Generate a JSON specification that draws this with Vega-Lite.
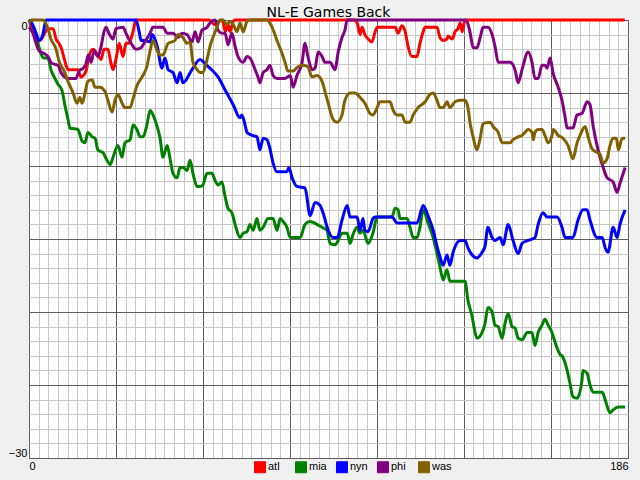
{
"$schema":"https://vega.github.io/schema/vega-lite/v6.json",
"width":599,"height":438,
"autosize":"none",
"padding":{"left":29,"top":20,"right":12,"bottom":22},
"background":"#f0f0f0",
"title":{"text":"NL-E Games Back","font":"DejaVu Sans","fontSize":14,"fontWeight":"normal","color":"#000000","anchor":"middle","offset":3,"dy":9},
"config":{"view":{"stroke":"#000000","strokeWidth":1,"fill":"#ffffff"}},
"data":{"values":[
{"team":"atl","g":0,"gb":0},{"team":"atl","g":3.4,"gb":-1.4},{"team":"atl","g":5.9,"gb":-0.6},{"team":"atl","g":7.5,"gb":-0.6},{"team":"atl","g":8.4,"gb":-1.3},{"team":"atl","g":9.3,"gb":-1.6},{"team":"atl","g":10,"gb":-1.9},{"team":"atl","g":11,"gb":-2.7},{"team":"atl","g":12.1,"gb":-3.4},{"team":"atl","g":15.2,"gb":-3.4},{"team":"atl","g":16.1,"gb":-3.9},{"team":"atl","g":17.7,"gb":-3.5},{"team":"atl","g":18.6,"gb":-2.5},{"team":"atl","g":19.9,"gb":-2.0},{"team":"atl","g":21.1,"gb":-2.3},{"team":"atl","g":22.4,"gb":-2.7},{"team":"atl","g":23.3,"gb":-2.0},{"team":"atl","g":24.5,"gb":-2.0},{"team":"atl","g":25.5,"gb":-3.0},{"team":"atl","g":26.1,"gb":-3.4},{"team":"atl","g":27,"gb":-2.7},{"team":"atl","g":28,"gb":-1.6},{"team":"atl","g":29.2,"gb":-2.5},{"team":"atl","g":30.1,"gb":-1.6},{"team":"atl","g":31,"gb":-1.6},{"team":"atl","g":32.3,"gb":-0.8},{"team":"atl","g":33.2,"gb":0},{"team":"atl","g":56,"gb":0},{"team":"atl","g":57.5,"gb":-0.3},{"team":"atl","g":60,"gb":0},{"team":"atl","g":61,"gb":-0.8},{"team":"atl","g":61.8,"gb":-0.3},{"team":"atl","g":62.4,"gb":-0.8},{"team":"atl","g":63.4,"gb":-0.1},{"team":"atl","g":64,"gb":0},{"team":"atl","g":101,"gb":0},{"team":"atl","g":101.9,"gb":-0.2},{"team":"atl","g":102.8,"gb":-1.0},{"team":"atl","g":103.4,"gb":-0.5},{"team":"atl","g":104.3,"gb":-1.0},{"team":"atl","g":105.3,"gb":-1.3},{"team":"atl","g":106.5,"gb":-1.5},{"team":"atl","g":107.5,"gb":-0.8},{"team":"atl","g":108.1,"gb":-0.5},{"team":"atl","g":113.7,"gb":-0.5},{"team":"atl","g":114.6,"gb":-0.9},{"team":"atl","g":115.8,"gb":-0.4},{"team":"atl","g":116.8,"gb":-0.8},{"team":"atl","g":117.7,"gb":-1.8},{"team":"atl","g":118.9,"gb":-2.5},{"team":"atl","g":120.5,"gb":-2.5},{"team":"atl","g":121.4,"gb":-1.6},{"team":"atl","g":122.4,"gb":-0.8},{"team":"atl","g":123,"gb":-0.5},{"team":"atl","g":126.7,"gb":-0.5},{"team":"atl","g":127.6,"gb":-1.2},{"team":"atl","g":128.6,"gb":-1.4},{"team":"atl","g":129.8,"gb":-1.3},{"team":"atl","g":130.1,"gb":-1.1},{"team":"atl","g":131.4,"gb":-1.3},{"team":"atl","g":132.3,"gb":-0.8},{"team":"atl","g":133.2,"gb":-0.6},{"team":"atl","g":133.9,"gb":-0.2},{"team":"atl","g":134.5,"gb":-0.8},{"team":"atl","g":135.4,"gb":0},{"team":"atl","g":185,"gb":0},
{"team":"mia","g":0,"gb":0},{"team":"mia","g":1.6,"gb":-0.6},{"team":"mia","g":2.8,"gb":-1.6},{"team":"mia","g":3.7,"gb":-2.3},{"team":"mia","g":4.7,"gb":-2.6},{"team":"mia","g":5.9,"gb":-2.6},{"team":"mia","g":6.8,"gb":-3.4},{"team":"mia","g":7.8,"gb":-3.9},{"team":"mia","g":9,"gb":-4.4},{"team":"mia","g":10.2,"gb":-4.8},{"team":"mia","g":11.2,"gb":-5.9},{"team":"mia","g":12.1,"gb":-6.8},{"team":"mia","g":12.7,"gb":-7.4},{"team":"mia","g":15.2,"gb":-7.5},{"team":"mia","g":16.5,"gb":-8.3},{"team":"mia","g":17.4,"gb":-8.4},{"team":"mia","g":18.3,"gb":-7.7},{"team":"mia","g":19.6,"gb":-8.0},{"team":"mia","g":20.5,"gb":-8.1},{"team":"mia","g":21.4,"gb":-8.9},{"team":"mia","g":23,"gb":-9.1},{"team":"mia","g":24.2,"gb":-9.6},{"team":"mia","g":25.2,"gb":-9.9},{"team":"mia","g":26.1,"gb":-9.4},{"team":"mia","g":27.6,"gb":-8.6},{"team":"mia","g":28.9,"gb":-9.4},{"team":"mia","g":29.8,"gb":-8.4},{"team":"mia","g":31.4,"gb":-8.2},{"team":"mia","g":32.3,"gb":-7.2},{"team":"mia","g":33.5,"gb":-7.5},{"team":"mia","g":34.5,"gb":-8.0},{"team":"mia","g":35.4,"gb":-8.0},{"team":"mia","g":36.6,"gb":-7.2},{"team":"mia","g":37.6,"gb":-6.2},{"team":"mia","g":38.5,"gb":-6.5},{"team":"mia","g":39.8,"gb":-7.3},{"team":"mia","g":40.7,"gb":-8.1},{"team":"mia","g":41.6,"gb":-9.4},{"team":"mia","g":42.9,"gb":-8.6},{"team":"mia","g":43.8,"gb":-9.5},{"team":"mia","g":44.7,"gb":-10.5},{"team":"mia","g":46,"gb":-10.8},{"team":"mia","g":46.9,"gb":-10.1},{"team":"mia","g":47.8,"gb":-10.1},{"team":"mia","g":49.1,"gb":-10.3},{"team":"mia","g":50,"gb":-9.6},{"team":"mia","g":50.9,"gb":-10.5},{"team":"mia","g":52.2,"gb":-11.4},{"team":"mia","g":53.1,"gb":-11.4},{"team":"mia","g":54,"gb":-11.3},{"team":"mia","g":55.3,"gb":-10.5},{"team":"mia","g":56.8,"gb":-10.5},{"team":"mia","g":57.8,"gb":-11.0},{"team":"mia","g":58.7,"gb":-11.3},{"team":"mia","g":59.9,"gb":-11.1},{"team":"mia","g":60.9,"gb":-12.1},{"team":"mia","g":61.8,"gb":-12.9},{"team":"mia","g":63,"gb":-13.2},{"team":"mia","g":64,"gb":-14.0},{"team":"mia","g":65.5,"gb":-14.9},{"team":"mia","g":66.5,"gb":-14.6},{"team":"mia","g":67.7,"gb":-14.5},{"team":"mia","g":68.6,"gb":-14.0},{"team":"mia","g":69.6,"gb":-14.4},{"team":"mia","g":70.8,"gb":-13.6},{"team":"mia","g":71.7,"gb":-14.4},{"team":"mia","g":72.7,"gb":-14.2},{"team":"mia","g":74.2,"gb":-13.6},{"team":"mia","g":75.8,"gb":-13.6},{"team":"mia","g":77,"gb":-14.4},{"team":"mia","g":78,"gb":-13.6},{"team":"mia","g":78.9,"gb":-13.8},{"team":"mia","g":80.1,"gb":-14.2},{"team":"mia","g":81.1,"gb":-14.9},{"team":"mia","g":82,"gb":-14.9},{"team":"mia","g":84.2,"gb":-14.9},{"team":"mia","g":85.7,"gb":-14.0},{"team":"mia","g":87.3,"gb":-13.8},{"team":"mia","g":89.4,"gb":-14.0},{"team":"mia","g":91,"gb":-14.2},{"team":"mia","g":92.5,"gb":-14.4},{"team":"mia","g":93.5,"gb":-15.3},{"team":"mia","g":95,"gb":-15.4},{"team":"mia","g":96,"gb":-15.1},{"team":"mia","g":97.2,"gb":-14.6},{"team":"mia","g":98.8,"gb":-14.6},{"team":"mia","g":99.7,"gb":-15.3},{"team":"mia","g":100.6,"gb":-14.7},{"team":"mia","g":101.9,"gb":-14.2},{"team":"mia","g":102.8,"gb":-14.6},{"team":"mia","g":103.7,"gb":-14.4},{"team":"mia","g":105.3,"gb":-15.3},{"team":"mia","g":106.8,"gb":-14.6},{"team":"mia","g":108.1,"gb":-13.5},{"team":"mia","g":112.7,"gb":-13.5},{"team":"mia","g":113.7,"gb":-12.9},{"team":"mia","g":114.6,"gb":-13.0},{"team":"mia","g":115.2,"gb":-13.6},{"team":"mia","g":117.4,"gb":-13.6},{"team":"mia","g":118.3,"gb":-14.2},{"team":"mia","g":119.3,"gb":-14.9},{"team":"mia","g":120.5,"gb":-14.9},{"team":"mia","g":121.4,"gb":-14.2},{"team":"mia","g":122.4,"gb":-13.0},{"team":"mia","g":123.9,"gb":-13.9},{"team":"mia","g":125.5,"gb":-14.9},{"team":"mia","g":126.7,"gb":-16.0},{"team":"mia","g":127.6,"gb":-16.9},{"team":"mia","g":128.6,"gb":-17.8},{"team":"mia","g":129.8,"gb":-17.1},{"team":"mia","g":130.7,"gb":-17.9},{"team":"mia","g":135.4,"gb":-17.9},{"team":"mia","g":136.3,"gb":-19.2},{"team":"mia","g":137.6,"gb":-20.3},{"team":"mia","g":138.5,"gb":-21.4},{"team":"mia","g":139.1,"gb":-21.8},{"team":"mia","g":140.7,"gb":-21.4},{"team":"mia","g":141.6,"gb":-20.8},{"team":"mia","g":142.5,"gb":-19.7},{"team":"mia","g":143.8,"gb":-20.0},{"team":"mia","g":144.7,"gb":-20.9},{"team":"mia","g":145.7,"gb":-21.0},{"team":"mia","g":146.9,"gb":-21.8},{"team":"mia","g":147.8,"gb":-20.8},{"team":"mia","g":148.8,"gb":-20.1},{"team":"mia","g":150,"gb":-21.0},{"team":"mia","g":150.9,"gb":-21.1},{"team":"mia","g":151.9,"gb":-21.8},{"team":"mia","g":153.1,"gb":-21.9},{"team":"mia","g":154.7,"gb":-21.4},{"team":"mia","g":156.2,"gb":-21.4},{"team":"mia","g":157.1,"gb":-22.3},{"team":"mia","g":158.1,"gb":-21.4},{"team":"mia","g":159.3,"gb":-20.9},{"team":"mia","g":160.2,"gb":-20.5},{"team":"mia","g":161.2,"gb":-20.9},{"team":"mia","g":162.4,"gb":-21.4},{"team":"mia","g":163.4,"gb":-22.1},{"team":"mia","g":164.9,"gb":-22.9},{"team":"mia","g":165.8,"gb":-23.1},{"team":"mia","g":167.1,"gb":-24.0},{"team":"mia","g":168,"gb":-24.9},{"team":"mia","g":168.9,"gb":-25.8},{"team":"mia","g":170.2,"gb":-25.9},{"team":"mia","g":171.7,"gb":-24.7},{"team":"mia","g":172,"gb":-24.0},{"team":"mia","g":173.3,"gb":-24.2},{"team":"mia","g":174.2,"gb":-25.0},{"team":"mia","g":175.2,"gb":-25.5},{"team":"mia","g":178,"gb":-25.5},{"team":"mia","g":178.9,"gb":-26.0},{"team":"mia","g":180.4,"gb":-26.9},{"team":"mia","g":181.4,"gb":-26.7},{"team":"mia","g":182.9,"gb":-26.5},{"team":"mia","g":185.1,"gb":-26.5},
{"team":"nyn","g":0,"gb":0},{"team":"nyn","g":0.6,"gb":-0.1},{"team":"nyn","g":2.2,"gb":-0.9},{"team":"nyn","g":3.1,"gb":-1.4},{"team":"nyn","g":4.3,"gb":-1.0},{"team":"nyn","g":5.3,"gb":0},{"team":"nyn","g":33.2,"gb":0},{"team":"nyn","g":34.2,"gb":-0.8},{"team":"nyn","g":34.8,"gb":-1.4},{"team":"nyn","g":35.7,"gb":-1.4},{"team":"nyn","g":37.6,"gb":-1.5},{"team":"nyn","g":38.2,"gb":-1.0},{"team":"nyn","g":39.8,"gb":-1.8},{"team":"nyn","g":41.3,"gb":-3.3},{"team":"nyn","g":42.2,"gb":-2.6},{"team":"nyn","g":43.2,"gb":-3.4},{"team":"nyn","g":44.7,"gb":-3.6},{"team":"nyn","g":46,"gb":-4.3},{"team":"nyn","g":46.9,"gb":-3.6},{"team":"nyn","g":47.8,"gb":-4.3},{"team":"nyn","g":50.6,"gb":-3.4},{"team":"nyn","g":53.1,"gb":-2.7},{"team":"nyn","g":54.7,"gb":-3.0},{"team":"nyn","g":56.2,"gb":-3.3},{"team":"nyn","g":58.7,"gb":-3.9},{"team":"nyn","g":60.9,"gb":-4.8},{"team":"nyn","g":63.4,"gb":-5.8},{"team":"nyn","g":65.5,"gb":-6.7},{"team":"nyn","g":66.1,"gb":-6.5},{"team":"nyn","g":67.1,"gb":-7.2},{"team":"nyn","g":67.7,"gb":-7.7},{"team":"nyn","g":69.3,"gb":-7.9},{"team":"nyn","g":70.8,"gb":-8.0},{"team":"nyn","g":71.7,"gb":-8.9},{"team":"nyn","g":72.7,"gb":-8.1},{"team":"nyn","g":73.9,"gb":-8.2},{"team":"nyn","g":74.8,"gb":-8.8},{"team":"nyn","g":75.8,"gb":-9.8},{"team":"nyn","g":77,"gb":-10.4},{"team":"nyn","g":80.1,"gb":-10.4},{"team":"nyn","g":80.7,"gb":-10.1},{"team":"nyn","g":81.7,"gb":-10.8},{"team":"nyn","g":83.2,"gb":-11.4},{"team":"nyn","g":85.7,"gb":-11.5},{"team":"nyn","g":87.3,"gb":-13.4},{"team":"nyn","g":88.8,"gb":-12.5},{"team":"nyn","g":90.4,"gb":-12.7},{"team":"nyn","g":91.3,"gb":-13.2},{"team":"nyn","g":92.9,"gb":-14.4},{"team":"nyn","g":94.4,"gb":-14.9},{"team":"nyn","g":95.7,"gb":-14.9},{"team":"nyn","g":97.2,"gb":-13.7},{"team":"nyn","g":98.8,"gb":-12.7},{"team":"nyn","g":99.7,"gb":-13.5},{"team":"nyn","g":101.9,"gb":-13.5},{"team":"nyn","g":102.8,"gb":-14.4},{"team":"nyn","g":103.7,"gb":-13.6},{"team":"nyn","g":104.3,"gb":-14.4},{"team":"nyn","g":105.3,"gb":-14.5},{"team":"nyn","g":106.8,"gb":-13.6},{"team":"nyn","g":107.5,"gb":-13.5},{"team":"nyn","g":112.7,"gb":-13.5},{"team":"nyn","g":114.3,"gb":-13.9},{"team":"nyn","g":120.5,"gb":-13.9},{"team":"nyn","g":122.4,"gb":-12.7},{"team":"nyn","g":123.9,"gb":-13.4},{"team":"nyn","g":125.5,"gb":-14.4},{"team":"nyn","g":126.7,"gb":-15.5},{"team":"nyn","g":127.6,"gb":-16.2},{"team":"nyn","g":128.6,"gb":-16.8},{"team":"nyn","g":129.8,"gb":-16.1},{"team":"nyn","g":130.7,"gb":-16.8},{"team":"nyn","g":131.7,"gb":-15.9},{"team":"nyn","g":133.9,"gb":-15.1},{"team":"nyn","g":135.4,"gb":-15.1},{"team":"nyn","g":136.3,"gb":-15.6},{"team":"nyn","g":137.6,"gb":-16.1},{"team":"nyn","g":139.1,"gb":-16.3},{"team":"nyn","g":140.7,"gb":-15.9},{"team":"nyn","g":141.6,"gb":-15.5},{"team":"nyn","g":142.5,"gb":-14.2},{"team":"nyn","g":143.8,"gb":-14.9},{"team":"nyn","g":144.7,"gb":-15.1},{"team":"nyn","g":146.3,"gb":-14.9},{"team":"nyn","g":147.2,"gb":-15.4},{"team":"nyn","g":148.8,"gb":-14.0},{"team":"nyn","g":150.3,"gb":-15.1},{"team":"nyn","g":151.9,"gb":-16.0},{"team":"nyn","g":153.1,"gb":-15.3},{"team":"nyn","g":155,"gb":-15.1},{"team":"nyn","g":157.1,"gb":-14.9},{"team":"nyn","g":158.1,"gb":-14.0},{"team":"nyn","g":159.6,"gb":-13.2},{"team":"nyn","g":160.9,"gb":-13.5},{"team":"nyn","g":164,"gb":-13.5},{"team":"nyn","g":165.5,"gb":-14.2},{"team":"nyn","g":166.5,"gb":-14.9},{"team":"nyn","g":168.9,"gb":-14.9},{"team":"nyn","g":170.5,"gb":-13.7},{"team":"nyn","g":172,"gb":-13.0},{"team":"nyn","g":173.3,"gb":-13.0},{"team":"nyn","g":174.2,"gb":-13.7},{"team":"nyn","g":176.4,"gb":-14.9},{"team":"nyn","g":178,"gb":-14.9},{"team":"nyn","g":178.9,"gb":-15.6},{"team":"nyn","g":179.8,"gb":-15.9},{"team":"nyn","g":181.4,"gb":-14.2},{"team":"nyn","g":182.6,"gb":-14.9},{"team":"nyn","g":183.5,"gb":-14.0},{"team":"nyn","g":185.1,"gb":-13.0},
{"team":"phi","g":0,"gb":-0.5},{"team":"phi","g":1.2,"gb":-0.9},{"team":"phi","g":2.2,"gb":-1.6},{"team":"phi","g":3.1,"gb":-2.1},{"team":"phi","g":4.7,"gb":-2.3},{"team":"phi","g":5.9,"gb":-2.5},{"team":"phi","g":6.8,"gb":-2.9},{"team":"phi","g":7.5,"gb":-3.0},{"team":"phi","g":9,"gb":-3.1},{"team":"phi","g":9.9,"gb":-3.6},{"team":"phi","g":12.1,"gb":-4.0},{"team":"phi","g":14.6,"gb":-4.0},{"team":"phi","g":15.5,"gb":-3.5},{"team":"phi","g":16.8,"gb":-3.3},{"team":"phi","g":17.7,"gb":-3.0},{"team":"phi","g":18.4,"gb":-2.4},{"team":"phi","g":19.3,"gb":-2.9},{"team":"phi","g":20.2,"gb":-2.1},{"team":"phi","g":21.4,"gb":-2.5},{"team":"phi","g":22.4,"gb":-1.8},{"team":"phi","g":23.3,"gb":-0.8},{"team":"phi","g":23.9,"gb":-0.5},{"team":"phi","g":24.8,"gb":-0.9},{"team":"phi","g":26.1,"gb":-1.3},{"team":"phi","g":27,"gb":-0.6},{"team":"phi","g":29.2,"gb":-0.5},{"team":"phi","g":30.1,"gb":-0.9},{"team":"phi","g":31,"gb":-1.3},{"team":"phi","g":32.3,"gb":-1.8},{"team":"phi","g":33.2,"gb":-2.0},{"team":"phi","g":34.8,"gb":-1.9},{"team":"phi","g":35.7,"gb":-1.6},{"team":"phi","g":37.6,"gb":-0.9},{"team":"phi","g":38.5,"gb":-0.5},{"team":"phi","g":41.6,"gb":-0.5},{"team":"phi","g":42.9,"gb":-0.9},{"team":"phi","g":44.7,"gb":-0.9},{"team":"phi","g":46.3,"gb":-1.2},{"team":"phi","g":47.5,"gb":-0.9},{"team":"phi","g":49.1,"gb":-1.0},{"team":"phi","g":50.6,"gb":-1.5},{"team":"phi","g":51.6,"gb":-0.8},{"team":"phi","g":52.5,"gb":-1.5},{"team":"phi","g":53.7,"gb":-0.7},{"team":"phi","g":55.3,"gb":-0.5},{"team":"phi","g":56.2,"gb":-0.2},{"team":"phi","g":57.8,"gb":0},{"team":"phi","g":58.7,"gb":-0.7},{"team":"phi","g":59.9,"gb":-0.9},{"team":"phi","g":60.9,"gb":-0.9},{"team":"phi","g":61.8,"gb":-1.7},{"team":"phi","g":63,"gb":-0.9},{"team":"phi","g":64,"gb":-1.8},{"team":"phi","g":64.9,"gb":-2.5},{"team":"phi","g":66.5,"gb":-2.9},{"team":"phi","g":67.7,"gb":-2.5},{"team":"phi","g":68.6,"gb":-2.6},{"team":"phi","g":70.2,"gb":-3.4},{"team":"phi","g":71.1,"gb":-3.9},{"team":"phi","g":71.7,"gb":-4.3},{"team":"phi","g":72.7,"gb":-3.6},{"team":"phi","g":73.9,"gb":-3.4},{"team":"phi","g":74.8,"gb":-3.1},{"team":"phi","g":75.8,"gb":-3.8},{"team":"phi","g":77,"gb":-4.0},{"team":"phi","g":79.5,"gb":-4.0},{"team":"phi","g":81.1,"gb":-3.8},{"team":"phi","g":82,"gb":-4.6},{"team":"phi","g":83.2,"gb":-3.8},{"team":"phi","g":84.8,"gb":-2.9},{"team":"phi","g":85.7,"gb":-1.6},{"team":"phi","g":86.6,"gb":-2.5},{"team":"phi","g":87.9,"gb":-3.4},{"team":"phi","g":88.8,"gb":-3.3},{"team":"phi","g":89.8,"gb":-2.2},{"team":"phi","g":91,"gb":-2.5},{"team":"phi","g":91.9,"gb":-2.9},{"team":"phi","g":93.5,"gb":-2.9},{"team":"phi","g":95,"gb":-3.4},{"team":"phi","g":96,"gb":-2.2},{"team":"phi","g":97.2,"gb":-1.2},{"team":"phi","g":98.1,"gb":-0.7},{"team":"phi","g":98.8,"gb":0},{"team":"phi","g":135.4,"gb":0},{"team":"phi","g":136,"gb":-0.1},{"team":"phi","g":137,"gb":-0.9},{"team":"phi","g":137.9,"gb":-1.9},{"team":"phi","g":139.1,"gb":-1.9},{"team":"phi","g":140.1,"gb":-1.2},{"team":"phi","g":141,"gb":-0.5},{"team":"phi","g":142.5,"gb":-0.5},{"team":"phi","g":143.8,"gb":-1.0},{"team":"phi","g":144.7,"gb":-1.8},{"team":"phi","g":145.7,"gb":-2.9},{"team":"phi","g":149.4,"gb":-2.9},{"team":"phi","g":150.9,"gb":-3.4},{"team":"phi","g":151.9,"gb":-4.3},{"team":"phi","g":153.1,"gb":-3.4},{"team":"phi","g":155,"gb":-2.2},{"team":"phi","g":156.2,"gb":-2.9},{"team":"phi","g":157.1,"gb":-4.0},{"team":"phi","g":158.1,"gb":-4.0},{"team":"phi","g":159.3,"gb":-3.1},{"team":"phi","g":160.2,"gb":-3.1},{"team":"phi","g":160.9,"gb":-3.3},{"team":"phi","g":161.8,"gb":-2.6},{"team":"phi","g":162.7,"gb":-3.6},{"team":"phi","g":164.3,"gb":-4.6},{"team":"phi","g":165.5,"gb":-5.5},{"team":"phi","g":166.5,"gb":-6.7},{"team":"phi","g":167.1,"gb":-7.4},{"team":"phi","g":168.9,"gb":-7.4},{"team":"phi","g":170.2,"gb":-6.5},{"team":"phi","g":171.7,"gb":-6.4},{"team":"phi","g":173.3,"gb":-5.6},{"team":"phi","g":174.2,"gb":-5.8},{"team":"phi","g":175.2,"gb":-7.3},{"team":"phi","g":176.7,"gb":-8.9},{"team":"phi","g":178,"gb":-9.9},{"team":"phi","g":179.5,"gb":-10.8},{"team":"phi","g":181.4,"gb":-11.1},{"team":"phi","g":182.6,"gb":-11.8},{"team":"phi","g":183.5,"gb":-11.2},{"team":"phi","g":185.1,"gb":-10.1},
{"team":"was","g":0,"gb":-0.2},{"team":"was","g":0.9,"gb":0},{"team":"was","g":4.3,"gb":0},{"team":"was","g":5.9,"gb":-0.6},{"team":"was","g":6.8,"gb":-1.3},{"team":"was","g":8.4,"gb":-2.0},{"team":"was","g":9.3,"gb":-2.8},{"team":"was","g":10.9,"gb":-3.5},{"team":"was","g":12.1,"gb":-4.2},{"team":"was","g":13.7,"gb":-5.0},{"team":"was","g":14.9,"gb":-5.7},{"team":"was","g":15.8,"gb":-5.3},{"team":"was","g":16.5,"gb":-5.7},{"team":"was","g":17.4,"gb":-5.0},{"team":"was","g":18.3,"gb":-4.2},{"team":"was","g":19.6,"gb":-4.1},{"team":"was","g":20.5,"gb":-4.6},{"team":"was","g":22,"gb":-4.6},{"team":"was","g":23.6,"gb":-4.9},{"team":"was","g":24.5,"gb":-5.5},{"team":"was","g":25.8,"gb":-6.3},{"team":"was","g":26.7,"gb":-5.5},{"team":"was","g":27.6,"gb":-5.1},{"team":"was","g":28.9,"gb":-5.7},{"team":"was","g":29.8,"gb":-6.0},{"team":"was","g":31.4,"gb":-6.0},{"team":"was","g":32.3,"gb":-5.4},{"team":"was","g":33.5,"gb":-4.5},{"team":"was","g":35.1,"gb":-3.9},{"team":"was","g":36.6,"gb":-3.2},{"team":"was","g":37.6,"gb":-2.1},{"team":"was","g":38.5,"gb":-1.4},{"team":"was","g":39.8,"gb":-2.1},{"team":"was","g":40.7,"gb":-2.4},{"team":"was","g":41.6,"gb":-2.4},{"team":"was","g":43.2,"gb":-1.6},{"team":"was","g":44.4,"gb":-1.5},{"team":"was","g":45.3,"gb":-1.4},{"team":"was","g":46.3,"gb":-1.0},{"team":"was","g":47.8,"gb":-1.2},{"team":"was","g":49.1,"gb":-1.6},{"team":"was","g":50,"gb":-1.5},{"team":"was","g":50.9,"gb":-2.9},{"team":"was","g":52.2,"gb":-3.4},{"team":"was","g":53.1,"gb":-3.6},{"team":"was","g":54,"gb":-3.6},{"team":"was","g":55.3,"gb":-2.7},{"team":"was","g":56.2,"gb":-1.8},{"team":"was","g":57.1,"gb":-1.2},{"team":"was","g":58.4,"gb":-0.5},{"team":"was","g":59.3,"gb":0},{"team":"was","g":60.2,"gb":0},{"team":"was","g":61.5,"gb":-0.3},{"team":"was","g":62.4,"gb":-0.1},{"team":"was","g":63.4,"gb":-0.3},{"team":"was","g":64.6,"gb":-0.8},{"team":"was","g":65.5,"gb":-0.2},{"team":"was","g":66.5,"gb":-0.8},{"team":"was","g":67.7,"gb":-0.1},{"team":"was","g":68.6,"gb":0},{"team":"was","g":73.9,"gb":0},{"team":"was","g":75.5,"gb":-0.5},{"team":"was","g":77,"gb":-1.4},{"team":"was","g":78.6,"gb":-2.3},{"team":"was","g":79.5,"gb":-2.9},{"team":"was","g":80.4,"gb":-3.5},{"team":"was","g":82,"gb":-3.5},{"team":"was","g":83.5,"gb":-3.2},{"team":"was","g":85.1,"gb":-3.1},{"team":"was","g":86.6,"gb":-3.2},{"team":"was","g":87.9,"gb":-3.9},{"team":"was","g":89.4,"gb":-3.8},{"team":"was","g":91,"gb":-4.2},{"team":"was","g":91.9,"gb":-4.9},{"team":"was","g":92.9,"gb":-5.7},{"team":"was","g":94.4,"gb":-6.8},{"team":"was","g":95.7,"gb":-7.0},{"team":"was","g":97.2,"gb":-6.5},{"team":"was","g":98.1,"gb":-5.5},{"team":"was","g":99.7,"gb":-5.0},{"team":"was","g":101.2,"gb":-5.0},{"team":"was","g":102.8,"gb":-5.3},{"team":"was","g":104.3,"gb":-5.7},{"team":"was","g":105.9,"gb":-6.4},{"team":"was","g":106.8,"gb":-6.5},{"team":"was","g":108.1,"gb":-6.0},{"team":"was","g":109,"gb":-5.6},{"team":"was","g":112.1,"gb":-5.6},{"team":"was","g":113.1,"gb":-6.2},{"team":"was","g":114.3,"gb":-6.5},{"team":"was","g":115.8,"gb":-6.5},{"team":"was","g":116.8,"gb":-7.0},{"team":"was","g":118.3,"gb":-7.0},{"team":"was","g":119.3,"gb":-6.5},{"team":"was","g":120.8,"gb":-6.0},{"team":"was","g":123,"gb":-5.6},{"team":"was","g":124.5,"gb":-5.1},{"team":"was","g":125.5,"gb":-5.0},{"team":"was","g":126.7,"gb":-5.5},{"team":"was","g":127.6,"gb":-6.0},{"team":"was","g":128.6,"gb":-6.0},{"team":"was","g":129.8,"gb":-5.6},{"team":"was","g":130.7,"gb":-6.0},{"team":"was","g":132.3,"gb":-5.6},{"team":"was","g":133.9,"gb":-5.5},{"team":"was","g":135.4,"gb":-5.5},{"team":"was","g":136.3,"gb":-6.0},{"team":"was","g":137,"gb":-7.1},{"team":"was","g":137.9,"gb":-8.0},{"team":"was","g":139.1,"gb":-8.9},{"team":"was","g":140.1,"gb":-8.1},{"team":"was","g":141,"gb":-7.1},{"team":"was","g":143.2,"gb":-7.0},{"team":"was","g":144.1,"gb":-7.3},{"team":"was","g":145.7,"gb":-7.7},{"team":"was","g":146.9,"gb":-8.4},{"team":"was","g":147.8,"gb":-8.4},{"team":"was","g":149.4,"gb":-8.4},{"team":"was","g":150.3,"gb":-8.2},{"team":"was","g":151.9,"gb":-8.0},{"team":"was","g":153.1,"gb":-7.9},{"team":"was","g":154,"gb":-7.7},{"team":"was","g":155,"gb":-7.5},{"team":"was","g":156.2,"gb":-7.7},{"team":"was","g":156.6,"gb":-8.2},{"team":"was","g":157.1,"gb":-7.7},{"team":"was","g":158.1,"gb":-7.5},{"team":"was","g":159.3,"gb":-7.5},{"team":"was","g":160.2,"gb":-7.9},{"team":"was","g":161.2,"gb":-8.4},{"team":"was","g":162.4,"gb":-7.9},{"team":"was","g":162.8,"gb":-7.5},{"team":"was","g":164.3,"gb":-7.9},{"team":"was","g":165.8,"gb":-8.1},{"team":"was","g":167.4,"gb":-8.6},{"team":"was","g":168.9,"gb":-9.5},{"team":"was","g":170.2,"gb":-8.4},{"team":"was","g":171.1,"gb":-7.9},{"team":"was","g":172.7,"gb":-7.3},{"team":"was","g":173.6,"gb":-8.0},{"team":"was","g":174.8,"gb":-8.8},{"team":"was","g":175.8,"gb":-9.0},{"team":"was","g":177.3,"gb":-9.2},{"team":"was","g":178.3,"gb":-9.8},{"team":"was","g":179.5,"gb":-9.5},{"team":"was","g":180.4,"gb":-8.6},{"team":"was","g":181.4,"gb":-8.1},{"team":"was","g":182.4,"gb":-8.1},{"team":"was","g":183,"gb":-8.9},{"team":"was","g":184.2,"gb":-8.1},{"team":"was","g":185.1,"gb":-8.1}
]},
"mark":{"type":"line","strokeWidth":3,"interpolate":"monotone","clip":false},
"encoding":{
"x":{"field":"g","type":"quantitative","scale":{"domain":[0,186],"nice":false,"zero":false},
"axis":{"title":null,"values":[0,3,6,9,12,15,18,21,24,27,30,33,36,39,42,45,48,51,54,57,60,63,66,69,72,75,78,81,84,87,90,93,96,99,102,105,108,111,114,117,120,123,126,129,132,135,138,141,144,147,150,153,156,159,162,165,168,171,174,177,180,183,186],
"grid":true,"gridColor":{"condition":{"test":"datum.value % 27 === 0 || datum.value === 186","value":"#5f5f5f"},"value":"#c8c8c8"},"gridWidth":1,
"ticks":false,"tickSize":0,"domain":false,"labelExpr":"datum.value === 0 || datum.value === 186 ? datum.label : ''","labelFlush":true,"labelOverlap":false,"labelFont":"Liberation Sans","labelFontSize":11,"labelColor":"#000000","labelPadding":2}},
"y":{"field":"gb","type":"quantitative","scale":{"domain":[-30,0],"nice":false,"zero":false},
"axis":{"title":null,"values":[-30,-29,-28,-27,-26,-25,-24,-23,-22,-21,-20,-19,-18,-17,-16,-15,-14,-13,-12,-11,-10,-9,-8,-7,-6,-5,-4,-3,-2,-1,0],
"grid":true,"gridColor":{"condition":{"test":"datum.value % 5 === 0","value":"#5f5f5f"},"value":"#c8c8c8"},"gridWidth":1,
"ticks":false,"tickSize":0,"domain":false,"labelExpr":"datum.value === 0 || datum.value === -30 ? datum.label : ''","labelFlush":true,"labelOverlap":false,"labelFont":"Liberation Sans","labelFontSize":11,"labelColor":"#000000","labelPadding":2}},
"color":{"field":"team","type":"nominal","scale":{"domain":["atl","mia","nyn","phi","was"],"range":["#ff0000","#008000","#0000ff","#800080","#806000"]},
"legend":{"title":null,"orient":"none","legendX":225,"legendY":441,"direction":"horizontal","columns":5,"gridAlign":"all","columnPadding":5,"padding":0,"symbolType":"square","symbolSize":121,"symbolStrokeWidth":1,"symbolOpacity":1,"labelFont":"Liberation Sans","labelFontSize":11,"labelColor":"#000000","labelOffset":2,
"encode":{"symbols":{"update":{"fill":{"scale":"color","field":"value"},"stroke":{"value":"#000000"},"strokeWidth":{"value":1},"opacity":{"value":1},"fillOpacity":{"value":1}}}}}}
}
}
